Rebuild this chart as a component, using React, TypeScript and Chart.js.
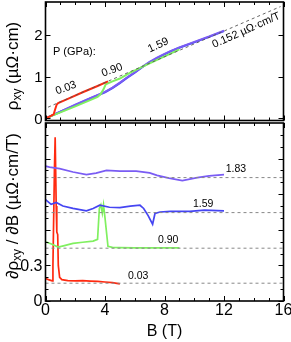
import React, { useEffect, useRef } from 'react';
import { Chart, registerables } from 'chart.js';

Chart.register(...registerables);

const FONT = '"Liberation Sans", Arial, Helvetica, sans-serif';

// ---------- Top panel: Hall resistivity rho_xy (µΩ·cm) vs B (T) ----------
const topRedB = [0, 0.3, 0.55, 0.65, 0.75, 0.85, 1.5, 2.5, 3.5, 4.2];
const topRedV = [0, 0.05, 0.1, 0.22, 0.33, 0.37, 0.47, 0.63, 0.78, 0.89];

const topGreenB = [0, 1, 2, 3, 3.5, 3.7, 3.9, 4.05, 4.5, 5, 5.7, 6.5, 7.5, 8.4, 9];
const topGreenV = [0, 0.145, 0.29, 0.44, 0.52, 0.58, 0.7, 0.82, 0.89, 0.96, 1.1, 1.24, 1.41, 1.56, 1.66];

const topBlueB = [0, 1, 2, 3, 4, 4.5, 5, 5.5, 6, 6.5, 7, 7.5, 8, 8.4, 9, 10, 11, 12];
const topBlueV = [0, 0.16, 0.32, 0.48, 0.63, 0.73, 0.85, 0.98, 1.1, 1.23, 1.35, 1.45, 1.54, 1.61, 1.7, 1.83, 1.96, 2.1];
const topPurpleV = [0, 0.16, 0.33, 0.49, 0.64, 0.74, 0.86, 0.99, 1.11, 1.24, 1.36, 1.46, 1.55, 1.62, 1.71, 1.84, 1.97, 2.11];

// dashed high-field fit, slope 0.152 µΩ·cm/T
const fitB = [0.17, 15.8];
const fitV = [0.27, 2.69];

// ---------- Bottom panel: d rho_xy / dB (offset curves) ----------
const botRedB = [0, 0.2, 0.45, 0.5, 0.6, 0.65, 0.72, 0.76, 0.82, 0.86, 0.95, 1.1, 1.5, 2, 2.5, 3, 3.5, 4, 4.5, 5];
const botRedV = [0.19, 0.18, 0.17, 0.3, 1.1, 1.38, 0.8, 0.58, 0.56, 0.3, 0.2, 0.18, 0.172, 0.17, 0.172, 0.168, 0.165, 0.16, 0.155, 0.145];

const botGreenB = [0, 0.4, 0.85, 1.2, 1.85, 2.5, 3.2, 3.5, 3.62, 3.72, 3.82, 3.9, 4.0, 4.2, 4.5, 5, 6, 7, 8, 9];
const botGreenV = [0.5, 0.48, 0.455, 0.465, 0.485, 0.495, 0.505, 0.52, 0.78, 0.81, 0.74, 0.81, 0.7, 0.46, 0.452, 0.45, 0.448, 0.448, 0.447, 0.447];

const botBlueB = [0, 0.38, 0.72, 1.17, 1.85, 2.75, 3.2, 3.65, 4.3, 5, 5.7, 6.35, 6.6, 6.9, 7.2, 7.36, 7.7, 8.4, 9.7, 10.7, 12];
const botBlueV = [0.855, 0.815, 0.83, 0.8, 0.78, 0.76, 0.78, 0.807, 0.79, 0.787, 0.8, 0.807, 0.78, 0.72, 0.647, 0.737, 0.75, 0.756, 0.756, 0.765, 0.759];

const botPurpleB = [0, 0.27, 0.95, 1.85, 2.75, 3.4, 4.1, 5, 6.1, 7.0, 7.5, 8.3, 9.2, 10.2, 11, 12];
const botPurpleV = [1.137, 1.128, 1.115, 1.087, 1.065, 1.078, 1.1, 1.095, 1.095, 1.08, 1.059, 1.035, 1.015, 1.04, 1.055, 1.065];

const baselines = [0.15, 0.445, 0.745, 1.04];

// ---------- Axes ----------
const xMajorTicks = [0, 4, 8, 12, 16];
const xMinorTicks = [1, 2, 3, 5, 6, 7, 9, 10, 11, 13, 14, 15];
const xTickLabels = ['0', '4', '8', '12', '16'];
const topYMajor = [0, 1, 2];
const topYLabels = ['0', '1', '2'];
const botYMajor = [0, 0.3, 0.6, 0.9, 1.2];
const botYMinor = [0.1, 0.2, 0.4, 0.5, 0.7, 0.8, 1.0, 1.1, 1.3, 1.4];
const botYLabelVals = [0, 0.3];
const botYLabels = ['0', '0.3'];

const RED = '#ff2a10';
const GREEN = '#80f060';
const BLUE = '#4545f2';
const PURPLE = '#7a5cf4';

const pts = (bs: number[], vs: number[]) => bs.map((b, i) => ({ x: b, y: vs[i] }));

type Part = { t: string; s: number; sub?: boolean };

function drawRichVertical(ctx: CanvasRenderingContext2D, parts: Part[], cx: number, cy: number) {
  ctx.save();
  let total = 0;
  const widths = parts.map((p) => {
    ctx.font = `${p.s}px ${FONT}`;
    const w = ctx.measureText(p.t).width;
    total += w;
    return w;
  });
  ctx.translate(cx, cy);
  ctx.rotate(-Math.PI / 2);
  ctx.textBaseline = 'alphabetic';
  ctx.textAlign = 'left';
  ctx.fillStyle = '#000';
  let xx = -total / 2;
  parts.forEach((p, i) => {
    ctx.font = `${p.s}px ${FONT}`;
    ctx.fillText(p.t, xx, p.sub ? 9 : 6);
    xx += widths[i];
  });
  ctx.restore();
}

type Ann = { text: string; b: number; v: number; rot: number; size: number; align?: CanvasTextAlign };

function makeDecor(cfg: {
  yMajor: number[];
  yMinor: number[];
  yLabelVals: number[];
  yLabels: string[];
  yLabelSize: number;
  showXLabels: boolean;
  title: Part[];
  titleY: number;
  anns: Ann[];
}) {
  return {
    id: 'decor',
    afterDatasetsDraw(chart: any) {
      const { ctx, chartArea: a, scales } = chart;
      const x = scales.x;
      const y = scales.y;
      ctx.save();
      ctx.strokeStyle = '#000';
      ctx.lineWidth = 1;
      ctx.beginPath();
      const xt = (v: number, len: number) => {
        const p = Math.round(x.getPixelForValue(v)) + 0.5;
        ctx.moveTo(p, a.bottom);
        ctx.lineTo(p, a.bottom - len);
        ctx.moveTo(p, a.top);
        ctx.lineTo(p, a.top + len);
      };
      const yt = (v: number, len: number) => {
        const p = Math.round(y.getPixelForValue(v)) + 0.5;
        ctx.moveTo(a.left, p);
        ctx.lineTo(a.left + len, p);
        ctx.moveTo(a.right, p);
        ctx.lineTo(a.right - len, p);
      };
      xMajorTicks.forEach((v) => xt(v, 5));
      xMinorTicks.forEach((v) => xt(v, 3));
      cfg.yMajor.forEach((v) => yt(v, 5));
      cfg.yMinor.forEach((v) => yt(v, 3));
      ctx.stroke();
      ctx.lineWidth = 1.6;
      ctx.strokeRect(a.left, a.top, a.right - a.left, a.bottom - a.top);

      ctx.fillStyle = '#000';
      ctx.font = `${cfg.yLabelSize}px ${FONT}`;
      ctx.textAlign = 'right';
      ctx.textBaseline = 'middle';
      cfg.yLabelVals.forEach((v, i) => {
        ctx.fillText(cfg.yLabels[i], a.left - 3, y.getPixelForValue(v) + 1);
      });

      if (cfg.showXLabels) {
        ctx.font = `16px ${FONT}`;
        ctx.textAlign = 'center';
        ctx.textBaseline = 'top';
        xMajorTicks.forEach((v, i) => {
          ctx.fillText(xTickLabels[i], x.getPixelForValue(v), a.bottom + 2);
        });
        ctx.font = `16px ${FONT}`;
        ctx.fillText('B (T)', (a.left + a.right) / 2, a.bottom + 23);
      }

      drawRichVertical(ctx, cfg.title, 12, cfg.titleY);

      cfg.anns.forEach((an) => {
        ctx.save();
        ctx.translate(x.getPixelForValue(an.b), y.getPixelForValue(an.v));
        ctx.rotate((an.rot * Math.PI) / 180);
        ctx.font = `${an.size}px ${FONT}`;
        ctx.textAlign = an.align || 'center';
        ctx.textBaseline = 'middle';
        ctx.fillStyle = '#000';
        ctx.fillText(an.text, 0, 0);
        ctx.restore();
      });
      ctx.restore();
    },
  };
}

const lineDs = (data: any, color: string, width = 1.8, dash: number[] = []) => ({
  data,
  borderColor: color,
  backgroundColor: color,
  borderWidth: width,
  borderDash: dash,
  pointRadius: 0,
  tension: 0,
  fill: false,
});

export default function App() {
  const topRef = useRef<HTMLCanvasElement>(null);
  const botRef = useRef<HTMLCanvasElement>(null);

  useEffect(() => {
    const common = (padding: any, ymin: number, ymax: number) => ({
      animation: false as const,
      responsive: false,
      devicePixelRatio: 1,
      layout: { padding },
      scales: {
        x: { type: 'linear' as const, min: 0, max: 16, display: false },
        y: { type: 'linear' as const, min: ymin, max: ymax, display: false },
      },
      plugins: { legend: { display: false }, tooltip: { enabled: false } },
    });

    const top = new Chart(topRef.current!, {
      type: 'line',
      data: {
        datasets: [
          lineDs(pts(fitB, fitV), '#555', 0.9, [3, 3]),
          lineDs(pts(topRedB, topRedV), RED, 2),
          lineDs(pts(topGreenB, topGreenV), GREEN, 2),
          lineDs(pts(topBlueB, topPurpleV), PURPLE, 2),
          lineDs(pts(topBlueB, topBlueV), BLUE, 2),
        ],
      },
      options: common({ left: 45.5, right: 7.5, top: 2, bottom: 221.5 }, -0.05, 2.8) as any,
      plugins: [
        makeDecor({
          yMajor: topYMajor,
          yMinor: [],
          yLabelVals: topYMajor,
          yLabels: topYLabels,
          yLabelSize: 15,
          showXLabels: false,
          title: [
            { t: 'ρ', s: 17 },
            { t: 'xy', s: 12, sub: true },
            { t: ' (µΩ·cm)', s: 17 },
          ],
          titleY: 66,
          anns: [
            { text: 'P (GPa):', b: 0.5, v: 1.6, rot: 0, size: 11, align: 'left' },
            { text: '0.03', b: 1.38, v: 0.73, rot: -20, size: 11 },
            { text: '0.90', b: 4.48, v: 1.16, rot: -20, size: 11 },
            { text: '1.59', b: 7.58, v: 1.76, rot: -25, size: 11 },
            { text: '0.152 µΩ·cm/T', b: 13.5, v: 2.12, rot: -24, size: 11 },
          ],
        }),
      ],
    });

    const bot = new Chart(botRef.current!, {
      type: 'line',
      data: {
        datasets: [
          ...baselines.map((b) => lineDs(pts([0, 16], [b, b]), '#888', 1, [3, 3])),
          lineDs(pts(botPurpleB, botPurpleV), PURPLE, 1.7),
          lineDs(pts(botBlueB, botBlueV), BLUE, 1.7),
          lineDs(pts(botGreenB, botGreenV), GREEN, 1.7),
          lineDs(pts(botRedB, botRedV), RED, 1.7),
        ],
      },
      options: common({ left: 45.5, right: 7.5, top: 123, bottom: 41 }, 0, 1.5) as any,
      plugins: [
        makeDecor({
          yMajor: botYMajor,
          yMinor: botYMinor,
          yLabelVals: botYLabelVals,
          yLabels: botYLabels,
          yLabelSize: 16,
          showXLabels: true,
          title: [
            { t: '∂ρ', s: 17 },
            { t: 'xy', s: 12, sub: true },
            { t: ' / ∂B (µΩ·cm/T)', s: 17 },
          ],
          titleY: 206,
          anns: [
            { text: '1.83', b: 12.8, v: 1.11, rot: 0, size: 10.5 },
            { text: '1.59', b: 10.6, v: 0.815, rot: 0, size: 10.5 },
            { text: '0.90', b: 8.25, v: 0.513, rot: 0, size: 10.5 },
            { text: '0.03', b: 6.23, v: 0.21, rot: 0, size: 10.5 },
          ],
        }),
      ],
    });

    return () => {
      top.destroy();
      bot.destroy();
    };
  }, []);

  const cs: React.CSSProperties = { position: 'absolute', left: 0, top: 0, width: 291, height: 342 };
  return (
    <div style={{ position: 'fixed', left: 0, top: 0, width: 291, height: 342, background: '#fff' }}>
      <canvas ref={topRef} width={291} height={342} style={cs} />
      <canvas ref={botRef} width={291} height={342} style={cs} />
    </div>
  );
}
